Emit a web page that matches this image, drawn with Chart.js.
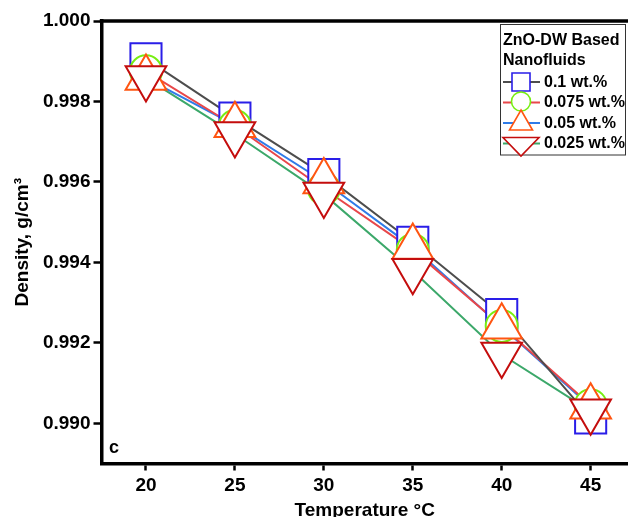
<!DOCTYPE html>
<html><head><meta charset="utf-8">
<script src="https://cdn.jsdelivr.net/npm/chart.js@4.4.0/dist/chart.umd.min.js"></script>
<style>html,body{margin:0;padding:0;background:#fff;}#wrap{width:628px;height:517px;position:relative;}</style>
</head><body><div id="wrap"><canvas id="c" width="628" height="517"></canvas></div>
<script>
const temperatures = [20, 25, 30, 35, 40, 45];
const density01   = [0.99906, 0.99759, 0.99618, 0.99450, 0.99270, 0.99013];
const density0075 = [0.99875, 0.99739, 0.99583, 0.99431, 0.99242, 0.99045];
const density005  = [0.99858, 0.99741, 0.99601, 0.99438, 0.99240, 0.99041];
const density0025 = [0.99858, 0.99719, 0.99569, 0.99379, 0.99171, 0.99030];
const xTickValues = [20, 25, 30, 35, 40, 45];
const yTickValues = [0.990, 0.992, 0.994, 0.996, 0.998, 1.000];
const seriesLabels = ['0.1 wt.%', '0.075 wt.%', '0.05 wt.%', '0.025 wt.%'];
const legendTitle = ['ZnO-DW Based', 'Nanofluids'];
const xTitle = 'Temperature \u00B0C';
const yTitle = 'Density, g/cm\u00B3';
const panelLabel = 'c';

const FONT = "'Liberation Sans', Arial, sans-serif";
const lineColors = ['#4d4d4d', '#e8474a', '#2f7be8', '#3ca86a'];
const markerColors = ['#2a1ee8', '#77ee11', '#ff5511', '#c40d0d'];
const seriesData = [density01, density0075, density005, density0025];
const markerStyles = [
  {pointStyle: 'rect', pointRadius: 22, rotation: 0},
  {pointStyle: 'circle', pointRadius: 16, rotation: 0},
  {pointStyle: 'triangle', pointRadius: 23.5, rotation: 0},
  {pointStyle: 'triangle', pointRadius: 23.5, rotation: 180}
];

const toPoints = arr => temperatures.map((t, i) => ({x: t, y: arr[i]}));

const datasets = [];
seriesData.forEach((arr, i) => {
  datasets.push({
    label: seriesLabels[i] + ' line', data: toPoints(arr), borderColor: lineColors[i],
    borderWidth: 2, pointRadius: 0, fill: false, tension: 0, order: 10, clip: false
  });
});
seriesData.forEach((arr, i) => {
  datasets.push({
    label: seriesLabels[i], data: toPoints(arr), showLine: false,
    pointStyle: markerStyles[i].pointStyle, pointRadius: markerStyles[i].pointRadius,
    rotation: markerStyles[i].rotation,
    pointBackgroundColor: '#ffffff', pointBorderColor: markerColors[i], pointBorderWidth: 2,
    order: 4 - i, clip: false
  });
});

const decorPlugin = {
  id: 'decor',
  afterDraw(chart) {
    const ctx = chart.ctx, a = chart.chartArea;
    ctx.save();
    ctx.strokeStyle = '#000'; ctx.lineWidth = 3.5;
    ctx.beginPath(); ctx.moveTo(a.left - 1.75, a.top); ctx.lineTo(chart.width, a.top); ctx.stroke();
    ctx.fillStyle = '#000'; ctx.font = 'bold 18px ' + FONT;
    ctx.textBaseline = 'middle'; ctx.textAlign = 'left';
    ctx.fillText(panelLabel, 109, 448);
    ctx.fillStyle = '#fff'; ctx.fillRect(500.5, 24.5, 125, 130.5);
    ctx.strokeStyle = '#333'; ctx.lineWidth = 1;
    ctx.strokeRect(500.5, 24.5, 125, 130.5);
    ctx.fillStyle = '#000'; ctx.font = 'bold 16px ' + FONT;
    ctx.fillText(legendTitle[0], 503, 41);
    ctx.fillText(legendTitle[1], 503, 61);
    const rows = [82, 102.5, 123, 143.5];
    const mx = 521;
    rows.forEach((y, i) => {
      ctx.strokeStyle = lineColors[i]; ctx.lineWidth = 2;
      ctx.beginPath(); ctx.moveTo(503, y); ctx.lineTo(540, y); ctx.stroke();
      ctx.fillStyle = '#fff'; ctx.strokeStyle = markerColors[i]; ctx.lineWidth = 1.6;
      ctx.beginPath();
      if (i === 0) { ctx.rect(mx - 9, y - 9, 18, 18); }
      else if (i === 1) { ctx.arc(mx, y - 1, 9.5, 0, Math.PI * 2); }
      else if (i === 2) { ctx.moveTo(mx, y - 13); ctx.lineTo(mx + 11.5, y + 7); ctx.lineTo(mx - 11.5, y + 7); ctx.closePath(); }
      else { ctx.moveTo(mx - 18, y - 6); ctx.lineTo(mx + 18, y - 6); ctx.lineTo(mx, y + 12.5); ctx.closePath(); }
      ctx.fill(); ctx.stroke();
      ctx.fillStyle = '#000'; ctx.font = 'bold 16px ' + FONT;
      ctx.fillText(seriesLabels[i], 544, y + 0.5);
    });
    ctx.restore();
  }
};

new Chart(document.getElementById('c'), {
  type: 'line',
  data: {datasets},
  options: {
    responsive: false, animation: false, devicePixelRatio: 1,
    layout: {autoPadding: false, padding: {top: 21, right: 0, left: 0, bottom: 0}},
    plugins: {legend: {display: false}, tooltip: {enabled: false}, title: {display: false}},
    scales: {
      x: {
        type: 'linear', min: 17.5, max: 47.1,
        afterBuildTicks: s => { s.ticks = xTickValues.map(v => ({value: v})); },
        afterFit: s => { s.height = 53.5; s.paddingLeft = 0; s.paddingRight = 0; },
        ticks: {color: '#000', padding: 4, font: {family: FONT, size: 19, weight: 'bold'}, callback: v => String(v), maxRotation: 0, autoSkip: false},
        grid: {display: true, drawOnChartArea: false, drawTicks: true, tickLength: 7, tickWidth: 2.5, tickColor: '#000', color: '#000'},
        border: {display: true, color: '#000', width: 3.5},
        title: {display: true, text: xTitle, color: '#000', font: {family: FONT, size: 19, weight: 'bold', lineHeight: 0.7}, padding: {top: 0, bottom: 0}}
      },
      y: {
        type: 'linear', min: 0.989, max: 1.0,
        afterBuildTicks: s => { s.ticks = yTickValues.map(v => ({value: v})); },
        afterFit: s => { s.width = 101.5; s.paddingTop = 0; s.paddingBottom = 0; },
        ticks: {color: '#000', padding: 3, font: {family: FONT, size: 19, weight: 'bold'}, callback: v => v.toFixed(3), autoSkip: false},
        grid: {display: true, drawOnChartArea: false, drawTicks: true, tickLength: 8, tickWidth: 2.5, tickColor: '#000', color: '#000'},
        border: {display: true, color: '#000', width: 3.5},
        title: {display: true, text: yTitle, color: '#000', font: {family: FONT, size: 19, weight: 'bold'}, padding: {top: 11.5, bottom: 0}}
      }
    }
  },
  plugins: [decorPlugin]
});
</script></body></html>
